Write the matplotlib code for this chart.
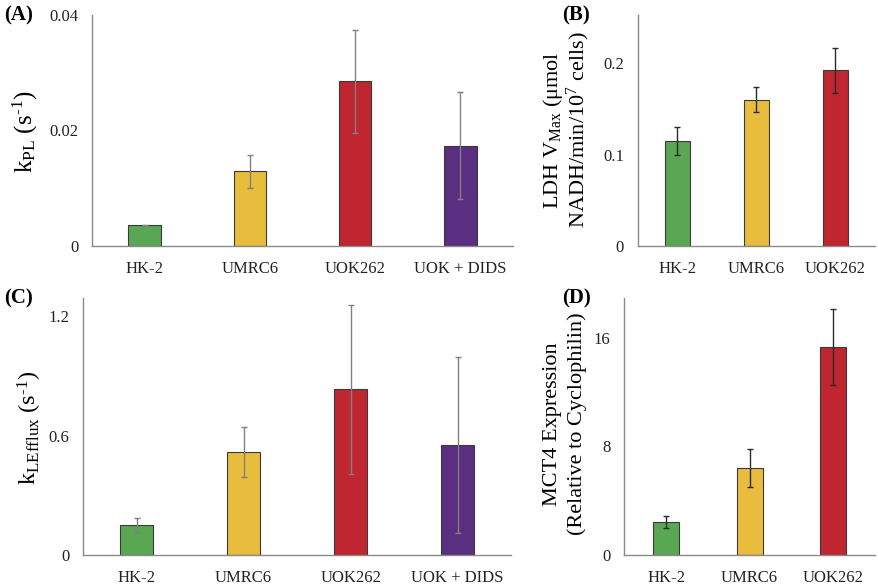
import matplotlib
matplotlib.use('Agg')
import matplotlib.pyplot as plt
import numpy as np

plt.rcParams['font.family'] = ['Liberation Serif', 'DejaVu Serif']
plt.rcParams['mathtext.fontset'] = 'custom'
plt.rcParams['mathtext.rm'] = 'Liberation Serif'
plt.rcParams['mathtext.it'] = 'Liberation Serif:italic'

# data
cellsA       =  ['HK-2', 'UMRC6', 'UOK262', 'UOK + DIDS']
kPL          =  [0.0036, 0.0129, 0.0285, 0.0174]
kPLErr       =  [0.0001, 0.0028, 0.0089, 0.0092]

cellsB       =  ['HK-2', 'UMRC6', 'UOK262']
ldhVmax      =  [0.115, 0.160, 0.192]
ldhErr       =  [0.015, 0.0135, 0.0245]

cellsC       =  ['HK-2', 'UMRC6', 'UOK262', 'UOK + DIDS']
kEfflux      =  [0.149, 0.516, 0.832, 0.553]
kEffluxErr   =  [0.038, 0.125, 0.426, 0.441]

cellsD       =  ['HK-2', 'UMRC6', 'UOK262']
mct4         =  [2.43, 6.4, 15.32]
mct4Err      =  [0.42, 1.4, 2.82]

barColors    =  ['#59a653', '#e8bc3c', '#bf2630', '#5a2e80']
spineCol     =  '#8a8a8a'


def DrawPanel (ax, cats, vals, errs, ymax, yticks, ylabels, errCol):
	x = np.arange(len(cats))
	ax.bar(x, vals, width=0.31, color=barColors[:len(cats)], edgecolor='#3a3a3a', linewidth=0.8, zorder=2)
	ax.errorbar(x, vals, yerr=errs, fmt='none', ecolor=errCol, elinewidth=1.0, capsize=2.5, capthick=1.0, zorder=3)
	ax.set_xlim(-0.5, len(cats)-0.5)
	ax.set_ylim(0, ymax)
	ax.set_xticks(x)
	ax.set_xticklabels(cats, fontsize=12)
	ax.set_yticks(yticks)
	ax.set_yticklabels(ylabels, fontsize=12)
	ax.tick_params(axis='both', length=0, colors='#222222')
	ax.tick_params(axis='y', pad=10)
	ax.tick_params(axis='x', pad=11)
	for s in ['top', 'right']:
		ax.spines[s].set_visible(False)
	for s in ['left', 'bottom']:
		ax.spines[s].set_color(spineCol)
		ax.spines[s].set_linewidth(1.0)


fig = plt.figure(figsize=(8.79, 5.85), dpi=100)

axA = fig.add_axes([0.1047, 0.5795, 0.4789, 0.3949])
DrawPanel(axA, cellsA, kPL, kPLErr, 0.04, [0, 0.02, 0.04], ['0', '0.02', '0.04'], '#808080')

axB = fig.add_axes([0.7255, 0.5795, 0.2699, 0.3949])
DrawPanel(axB, cellsB, ldhVmax, ldhErr, 0.2525, [0, 0.1, 0.2], ['0', '0.1', '0.2'], '#2a2a2a')

axC = fig.add_axes([0.0948, 0.0513, 0.4865, 0.4388])
DrawPanel(axC, cellsC, kEfflux, kEffluxErr, 1.29, [0, 0.6, 1.2], ['0', '0.6', '1.2'], '#808080')

axD = fig.add_axes([0.7102, 0.0513, 0.2852, 0.4388])
DrawPanel(axD, cellsD, mct4, mct4Err, 18.9, [0, 8, 16], ['0', '8', '16'], '#2a2a2a')

# y labels
fig.text(25/879, 1-132/585, r'k$_{\mathrm{PL}}$ (s$^{\text{-1}}$)', rotation=90, fontsize=18, ha='center', va='center')
fig.text(30/879, 1-428/585, r'k$_{\mathrm{LEfflux}}$ (s$^{\text{-1}}$)', rotation=90, fontsize=17.5, ha='center', va='center')
fig.text(553/879, 1-130/585, r'LDH V$_{\mathrm{Max}}$ (μmol', rotation=90, fontsize=16, ha='center', va='center')
fig.text(578/879, 1-130/585, r'NADH/min/10$^{\mathrm{7}}$ cells)', rotation=90, fontsize=16, ha='center', va='center')
fig.text(552/879, 1-424/585, 'MCT4 Expression', rotation=90, fontsize=16, ha='center', va='center')
fig.text(577/879, 1-424/585, '(Relative to Cyclophilin)', rotation=90, fontsize=16, ha='center', va='center')

# panel letters
for lbl, px, py in [('(A)', 4, 15), ('(B)', 562, 15), ('(C)', 4, 298), ('(D)', 562, 298)]:
	fig.text(px/879, 1-py/585, lbl, fontsize=15, fontweight='bold', ha='left', va='center')

plt.savefig('out.png', dpi=100)
plt.close(fig)
